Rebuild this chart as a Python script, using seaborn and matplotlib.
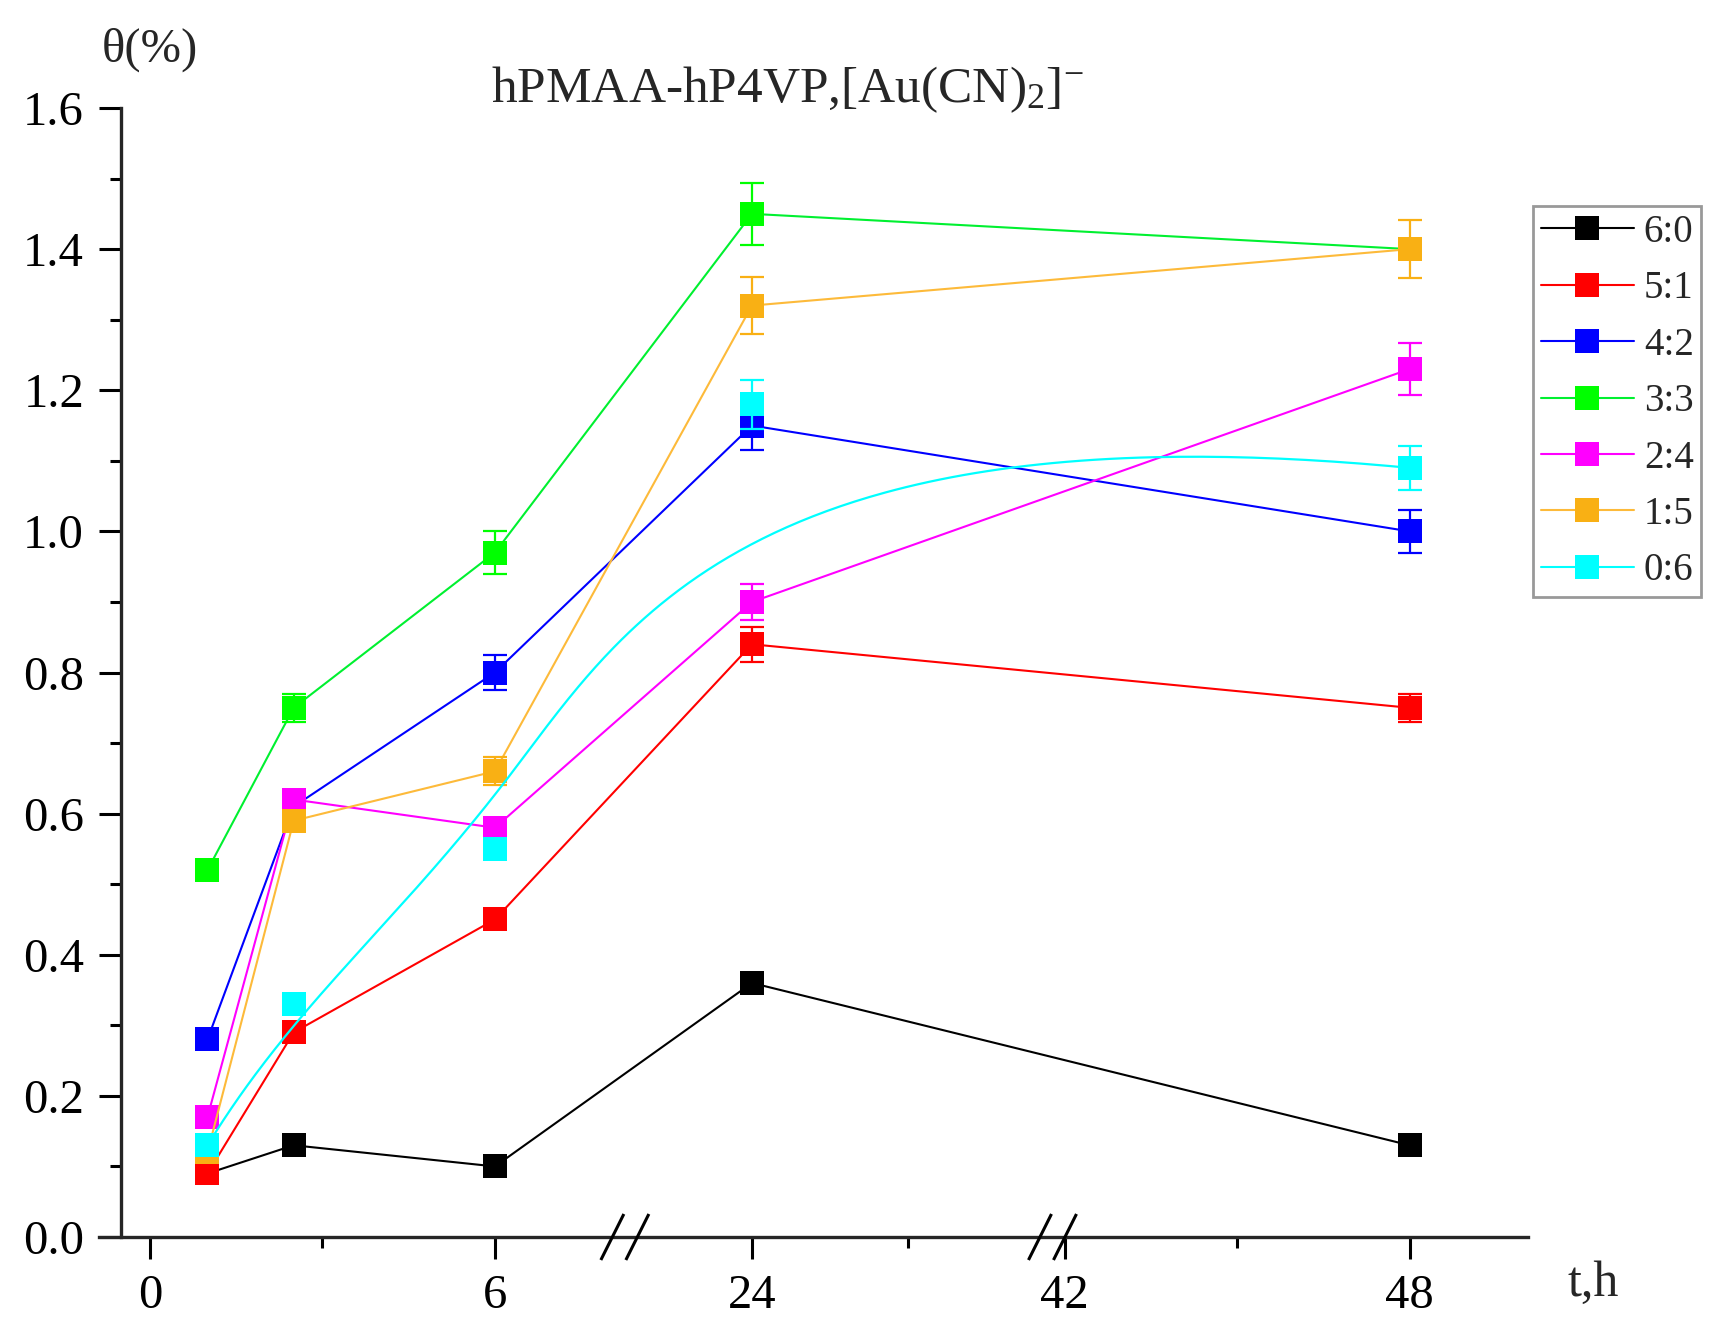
import numpy as np
import pandas as pd
import seaborn as sns
import matplotlib
matplotlib.use("Agg")
import matplotlib.pyplot as plt
from matplotlib.lines import Line2D

# ---------------- data ----------------
T_HOURS = [1, 2.5, 6, 24, 48]
RATIOS = ["6:0", "5:1", "4:2", "3:3", "2:4", "1:5", "0:6"]

THETA_60 = [0.09, 0.13, 0.10, 0.36, 0.13]
THETA_51 = [0.09, 0.29, 0.45, 0.84, 0.75]
THETA_42 = [0.28, 0.61, 0.80, 1.15, 1.00]
THETA_33 = [0.52, 0.75, 0.97, 1.45, 1.40]
THETA_24 = [0.17, 0.62, 0.58, 0.90, 1.23]
THETA_15 = [0.12, 0.59, 0.66, 1.32, 1.40]
THETA_06 = [0.13, 0.33, 0.55, 1.18, 1.09]

ERR_60 = [0.01, 0.01, 0.01, 0.01, 0.01]
ERR_51 = [0.01, 0.01, 0.01, 0.025, 0.02]
ERR_42 = [0.01, 0.01, 0.025, 0.034, 0.03]
ERR_33 = [0.01, 0.02, 0.03, 0.044, 0.01]
ERR_24 = [0.01, 0.01, 0.01, 0.025, 0.037]
ERR_15 = [0.01, 0.01, 0.02, 0.04, 0.041]
ERR_06 = [0.01, 0.01, 0.01, 0.035, 0.031]

X_TICKS = [0, 6, 24, 42, 48]
X_TICK_LABELS = ["0", "6", "24", "42", "48"]
X_MINOR = [3, 33, 45]
Y_TICKS = [0.0, 0.2, 0.4, 0.6, 0.8, 1.0, 1.2, 1.4, 1.6]
Y_TICK_LABELS = ["0.0", "0.2", "0.4", "0.6", "0.8", "1.0", "1.2", "1.4", "1.6"]

MARKER_COLORS = ["#000000", "#FF0000", "#0000FF", "#00FF00", "#FF00FF", "#F9B014", "#00FFFF"]
LINE_COLORS = ["#000000", "#FF0000", "#0000FF", "#00F030", "#FF00FF", "#FDBA3A", "#00FFFF"]

series = [THETA_60, THETA_51, THETA_42, THETA_33, THETA_24, THETA_15, THETA_06]
errors = [ERR_60, ERR_51, ERR_42, ERR_33, ERR_24, ERR_15, ERR_06]

rows = []
for lab, ys, es in zip(RATIOS, series, errors):
    for t, y, e in zip(T_HOURS, ys, es):
        rows.append({"t": t, "theta": y, "err": e, "ratio": lab})
df = pd.DataFrame(rows)

# ---------------- broken x scale ----------------
XP = np.array([-10.0, 8.26, 16.7, 42.0, 70.0])
FP = np.array([-10.0, 8.26, 8.265, 15.91, 43.91])


def fwd(x):
    return np.interp(x, XP, FP)


def inv(f):
    return np.interp(f, FP, XP)


def bspline(px, py, k=3, n=400):
    ncp = len(px)
    inner = np.linspace(0, 1, ncp - k + 1)
    knots = np.concatenate([np.zeros(k), inner, np.ones(k)])
    u = np.linspace(0, 1, n)

    def basis(i, p):
        if p == 0:
            res = ((knots[i] <= u) & (u < knots[i + 1])).astype(float)
            if knots[i + 1] == 1.0 and knots[i] < 1.0:
                res[u == 1.0] = 1.0
            return res
        out = np.zeros_like(u)
        d1 = knots[i + p] - knots[i]
        if d1 > 0:
            out += (u - knots[i]) / d1 * basis(i, p - 1)
        d2 = knots[i + p + 1] - knots[i + 1]
        if d2 > 0:
            out += (knots[i + p + 1] - u) / d2 * basis(i + 1, p - 1)
        return out

    B = np.array([basis(i, k) for i in range(ncp)])
    return B.T @ np.asarray(px), B.T @ np.asarray(py)


# ---------------- style ----------------
sns.set_theme(style="ticks")
plt.rcParams["font.family"] = ["Liberation Serif", "DejaVu Serif"]
plt.rcParams["mathtext.fontset"] = "custom"
plt.rcParams["mathtext.rm"] = "Liberation Serif"
plt.rcParams["mathtext.it"] = "Liberation Serif:italic"
plt.rcParams["axes.linewidth"] = 2.4

W, H = 1730, 1336
fig = plt.figure(figsize=(W / 100, H / 100), dpi=100)
fig.patch.set_facecolor("white")
ax = fig.add_axes([99 / W, (H - 1237) / H, (1528 - 99) / W, (1237 - 108) / H])
ax.set_facecolor("white")
ax.set_xscale("function", functions=(fwd, inv))
ax.set_xlim(-0.887, 50.06)
ax.set_ylim(0, 1.6)

for i, lab in enumerate(RATIOS):
    sub = df[df["ratio"] == lab]
    z = 3 + i * 0.1
    mc = MARKER_COLORS[i]
    lc = LINE_COLORS[i]
    if lab == "0:6":
        cx, cy = bspline(fwd(sub["t"].to_numpy()), sub["theta"].to_numpy())
        sns.lineplot(x=inv(cx), y=cy, color=lc, linewidth=1.6, ax=ax,
                     estimator=None, sort=False, legend=False, zorder=z)
    else:
        sns.lineplot(data=sub, x="t", y="theta", color=lc, linewidth=1.5, ax=ax,
                     estimator=None, sort=False, legend=False, zorder=z)
    ax.errorbar(sub["t"], sub["theta"], yerr=sub["err"], fmt="none", ecolor=mc,
                elinewidth=1.6, capsize=8.6, capthick=1.6, zorder=z + 0.01)
    sns.scatterplot(data=sub, x="t", y="theta", color=mc, marker="s", s=17.5 ** 2,
                    linewidth=0, ax=ax, legend=False, zorder=z + 0.02)

# axes cosmetics
for s in ["top", "right"]:
    ax.spines[s].set_visible(False)
ax.spines["left"].set_position(("data", -0.5))
ax.spines["left"].set_bounds(0, 1.6)

ax.set_xticks(X_TICKS)
ax.set_xticklabels(X_TICK_LABELS)
ax.set_xticks(X_MINOR, minor=True)
ax.set_yticks(Y_TICKS)
ax.set_yticklabels(Y_TICK_LABELS)
ax.set_yticks(np.arange(0.1, 1.6, 0.2), minor=True)
ax.tick_params(axis="both", which="major", direction="out", length=15.8, width=2.2,
               labelsize=35, pad=11, colors="black")
ax.tick_params(axis="both", which="minor", direction="out", length=7.9, width=2.2,
               colors="black")
ax.set_xlabel("")
ax.set_ylabel("")
ax.grid(False)

# axis-break marks
fig.canvas.draw()
y_ax = ax.transData.transform((1.0, 0.0))[1]
for xb in [8.26, 41.3]:
    cxp = ax.transData.transform((xb, 0.0))[0]
    for off in (-12.5, 12.5):
        x0, x1 = cxp + off - 11.5, cxp + off + 11.5
        y0, y1 = y_ax - 23, y_ax + 23
        fig.add_artist(Line2D([x0 / W, x1 / W], [y0 / H, y1 / H], transform=fig.transFigure,
                              color="black", linewidth=2.2, solid_capstyle="butt"))

# texts
fig.text(787 / W, (H - 102) / H, r"hPMAA-hP4VP,[Au(CN)$_\mathrm{2}$]$^{-}$",
         ha="center", va="baseline", fontsize=37)
fig.text(102 / W, (H - 62) / H, "θ(%)", ha="left", va="baseline", fontsize=35)
fig.text(1568 / W, (H - 1296) / H, "t,h", ha="left", va="baseline", fontsize=36)

# legend
handles = [Line2D([], [], color=LINE_COLORS[i], linewidth=1.5, marker="s",
                  markersize=17.5, markerfacecolor=MARKER_COLORS[i], markeredgewidth=0)
           for i in range(len(RATIOS))]
leg = fig.legend(handles, RATIOS, loc="upper left", bbox_to_anchor=(1533 / W, (H - 206) / H),
                 bbox_transform=fig.transFigure, fontsize=28, handlelength=2.4,
                 handletextpad=0.25, labelspacing=0.5, borderpad=0.2, borderaxespad=0,
                 fancybox=False, frameon=True)
leg.get_frame().set_edgecolor("#808080")
leg.get_frame().set_linewidth(2.0)

fig.savefig("out.png", dpi=100, facecolor="white")
